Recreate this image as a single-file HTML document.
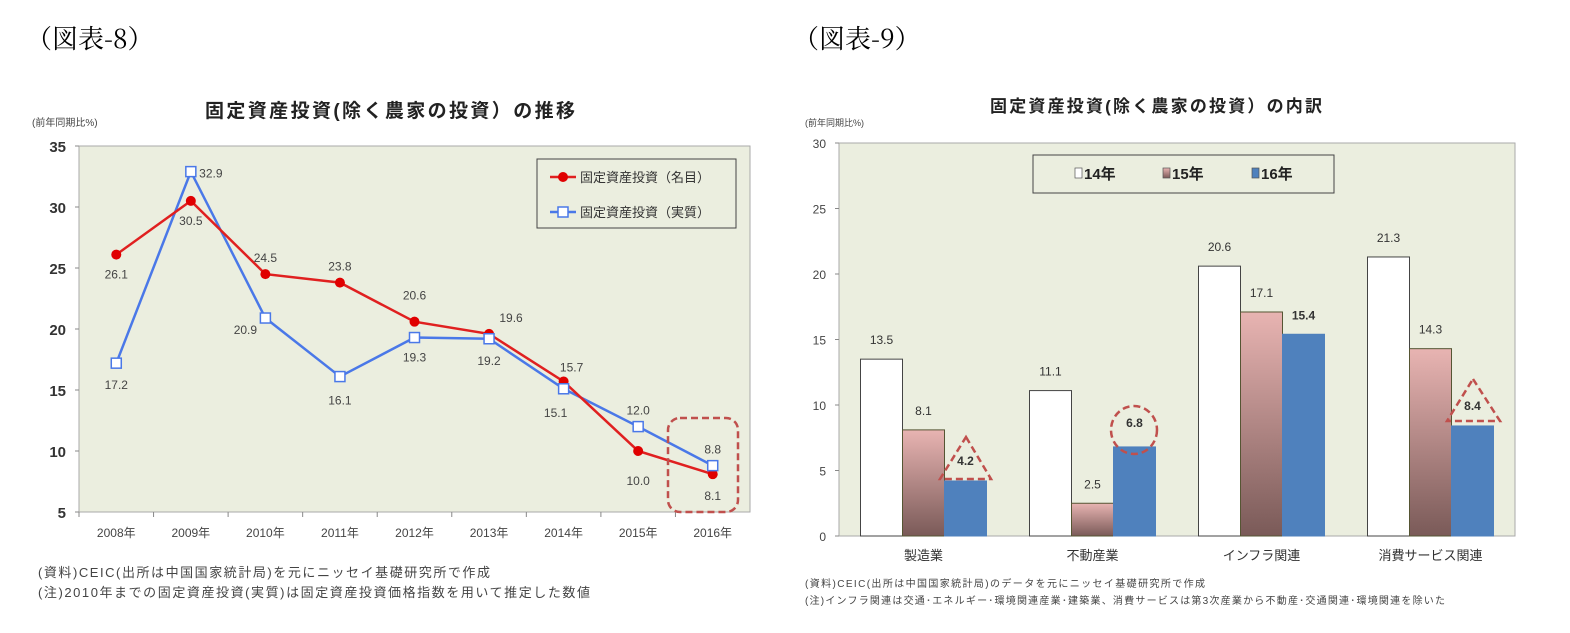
<!DOCTYPE html>
<html><head><meta charset="utf-8"><style>
body{margin:0;background:#fff;}
svg{display:block;font-family:"Liberation Sans","Noto Sans CJK JP",sans-serif;}
</style></head><body>
<svg id="s" width="1570" height="633" viewBox="0 0 1570 633">
<text x="26" y="48" font-size="26" font-family="Noto Serif CJK SC,serif">（図表-8）</text>
<text x="793" y="48" font-size="26" font-family="Noto Serif CJK SC,serif">（図表-9）</text>
<g id="c1">
<text x="205" y="117" font-size="19" font-weight="bold" fill="#222" textLength="370">固定資産投資(除く農家の投資）の推移</text>
<text x="32" y="126" font-size="10" fill="#444">(前年同期比%)</text>
<rect x="79" y="146" width="671" height="366" fill="#ebeedf" stroke="#aaa"/>
</g>
<g id="c2">
<text x="990" y="112" font-size="17" font-weight="bold" fill="#222" textLength="332">固定資産投資(除く農家の投資）の内訳</text>
<text x="805" y="126" font-size="9" fill="#444">(前年同期比%)</text>
<rect x="839" y="143" width="676" height="393" fill="#ebeedf" stroke="#aaa"/>
</g>
<text x="38" y="577" font-size="13" fill="#444" textLength="452">(資料)CEIC(出所は中国国家統計局)を元にニッセイ基礎研究所で作成</text>
<text x="38" y="597" font-size="13" fill="#444" textLength="552">(注)2010年までの固定資産投資(実質)は固定資産投資価格指数を用いて推定した数値</text>
<text x="805" y="587" font-size="10" fill="#444" textLength="400">(資料)CEIC(出所は中国国家統計局)のデータを元にニッセイ基礎研究所で作成</text>
<text x="805" y="604" font-size="10" fill="#444" textLength="640">(注)インフラ関連は交通･エネルギー･環境関連産業･建築業、消費サービスは第3次産業から不動産･交通関連･環境関連を除いた</text>
</svg>
<script>
const years=["2008年","2009年","2010年","2011年","2012年","2013年","2014年","2015年","2016年"];
const nominal=[26.1,30.5,24.5,23.8,20.6,19.6,15.7,10.0,8.1];
const real=[17.2,32.9,20.9,16.1,19.3,19.2,15.1,12.0,8.8];
const ticks1=[5,10,15,20,25,30,35];
const cats=["製造業","不動産業","インフラ関連","消費サービス関連"];
const y14=[13.5,11.1,20.6,21.3];
const y15=[8.1,2.5,17.1,14.3];
const y16=[4.2,6.8,15.4,8.4];
const ticks2=[0,5,10,15,20,25,30];
const NS="http://www.w3.org/2000/svg";
function mk(p,t,a,txt){const e=document.createElementNS(NS,t);for(const k in a)e.setAttribute(k,a[k]);if(txt!==undefined)e.textContent=txt;p.appendChild(e);return e;}
const c1=document.getElementById('c1'),c2=document.getElementById('c2');
const X1=i=>79+671/9*(i+0.5), Y1=v=>512-(v-5)/30*366;
ticks1.forEach(t=>{const e=mk(c1,'text',{x:66,y:Y1(t)+6,'font-size':15,'font-weight':'bold','text-anchor':'end',fill:'#333'},t);

mk(c1,'line',{x1:75,x2:79,y1:Y1(t),y2:Y1(t),stroke:'#888'});});
years.forEach((y,i)=>{const e=mk(c1,'text',{x:X1(i),y:537,'font-size':12,'text-anchor':'middle',fill:'#444'},y);

mk(c1,'line',{x1:79+671/9*i,x2:79+671/9*i,y1:512,y2:517,stroke:'#888'});});
let p=mk(c1,'polyline',{points:real.map((v,i)=>X1(i)+','+Y1(v)).join(' '),fill:'none',stroke:'#4a78e8','stroke-width':2.5});

p=mk(c1,'polyline',{points:nominal.map((v,i)=>X1(i)+','+Y1(v)).join(' '),fill:'none',stroke:'#e02020','stroke-width':2.5});

nominal.forEach((v,i)=>{const e=mk(c1,'circle',{cx:X1(i),cy:Y1(v),r:5,fill:'#e00000'});
});
real.forEach((v,i)=>{const e=mk(c1,'rect',{x:X1(i)-5,y:Y1(v)-5,width:10,height:10,fill:'#fff',stroke:'#4a78e8','stroke-width':1.5});
});
const nOff=[[0,20],[0,20],[0,-16],[0,-16],[0,-26],[22,-16],[8,-14],[0,30],[0,22]];
const rOff=[[0,22],[20,2],[-20,12],[0,24],[0,20],[0,22],[-8,24],[0,-16],[0,-16]];
nominal.forEach((v,i)=>{const e=mk(c1,'text',{x:X1(i)+nOff[i][0],y:Y1(v)+nOff[i][1]+4,'font-size':12,'text-anchor':'middle',fill:'#444'},v.toFixed(1));
});
real.forEach((v,i)=>{const e=mk(c1,'text',{x:X1(i)+rOff[i][0],y:Y1(v)+rOff[i][1]+4,'font-size':12,'text-anchor':'middle',fill:'#444'},v.toFixed(1));
});
let r=mk(c1,'rect',{x:668,y:418,width:70,height:94,rx:12,fill:'none',stroke:'#c0504d','stroke-width':2.5,'stroke-dasharray':'7,4'});

const lg=mk(c1,'g',{});
mk(lg,'rect',{x:537,y:159,width:199,height:69,fill:'#ebeedf',stroke:'#444'});
mk(lg,'line',{x1:550,x2:576,y1:177,y2:177,stroke:'#e02020','stroke-width':2.5});mk(lg,'circle',{cx:563,cy:177,r:5,fill:'#e00000'});
mk(lg,'text',{x:580,y:182,'font-size':13,fill:'#333'},'固定資産投資（名目）');
mk(lg,'line',{x1:550,x2:576,y1:212,y2:212,stroke:'#4a78e8','stroke-width':2.5});mk(lg,'rect',{x:558,y:207,width:10,height:10,fill:'#fff',stroke:'#4a78e8','stroke-width':1.5});
mk(lg,'text',{x:580,y:217,'font-size':13,fill:'#333'},'固定資産投資（実質）');
const defs=mk(document.getElementById('s'),'defs',{});
const g=mk(defs,'linearGradient',{id:'pink',x1:0,y1:0,x2:0,y2:1});
mk(g,'stop',{offset:'0','stop-color':'#e8b4b2'});mk(g,'stop',{offset:'1','stop-color':'#7a5a58'});
const Y2=v=>536-v/30*393, G=676/4;
ticks2.forEach(t=>{const e=mk(c2,'text',{x:826,y:Y2(t)+5,'font-size':12,'text-anchor':'end',fill:'#444'},t);

mk(c2,'line',{x1:835,x2:839,y1:Y2(t),y2:Y2(t),stroke:'#888'});});
cats.forEach((c,i)=>{const e=mk(c2,'text',{x:839+G*(i+0.5),y:560,'font-size':13,'text-anchor':'middle',fill:'#333'},c);
});
const series=[[y14,'#fff','#444','bar-2014',false],[y15,'url(#pink)','#553','bar-2015',false],[y16,'#4f81bd','#4f81bd','bar-2016',true]];
series.forEach((s,k)=>{s[0].forEach((v,i)=>{const x=839+G*i+21.5+k*42;
const b=mk(c2,'rect',{x:x,y:Y2(v),width:42,height:536-Y2(v),fill:s[1],stroke:s[2],'stroke-width':1});

const t=mk(c2,'text',{x:x+21,y:Y2(v)-15,'font-size':12,'text-anchor':'middle',fill:'#333','font-weight':s[4]?'bold':'normal'},v.toFixed(1));
if(s[4]&&i!==2)t.setAttribute('y',Y2(v)-(i==1?20:16));
});});
const sh=mk(c2,'g',{fill:'none',stroke:'#c0504d','stroke-width':2.5,'stroke-dasharray':'7,4'});

mk(sh,'polygon',{points:'966,437 991,479 940,479'});
mk(sh,'ellipse',{cx:1134,cy:430,rx:23,ry:24});
mk(sh,'polygon',{points:'1473,379 1500,421 1447,421'});
const lg2=mk(c2,'g',{});
mk(lg2,'rect',{x:1033,y:155,width:301,height:38,fill:'#ebeedf',stroke:'#444'});
[['#fff','14年',1075],['url(#pink)','15年',1163],['#4f81bd','16年',1252]].forEach(l=>{
mk(lg2,'rect',{x:l[2],y:168,width:7,height:10,fill:l[0],stroke:'#555','stroke-width':0.7});
mk(lg2,'text',{x:l[2]+9,y:179,'font-size':15,'font-weight':'bold',fill:'#222'},l[1]);});
</script>
</body></html>
